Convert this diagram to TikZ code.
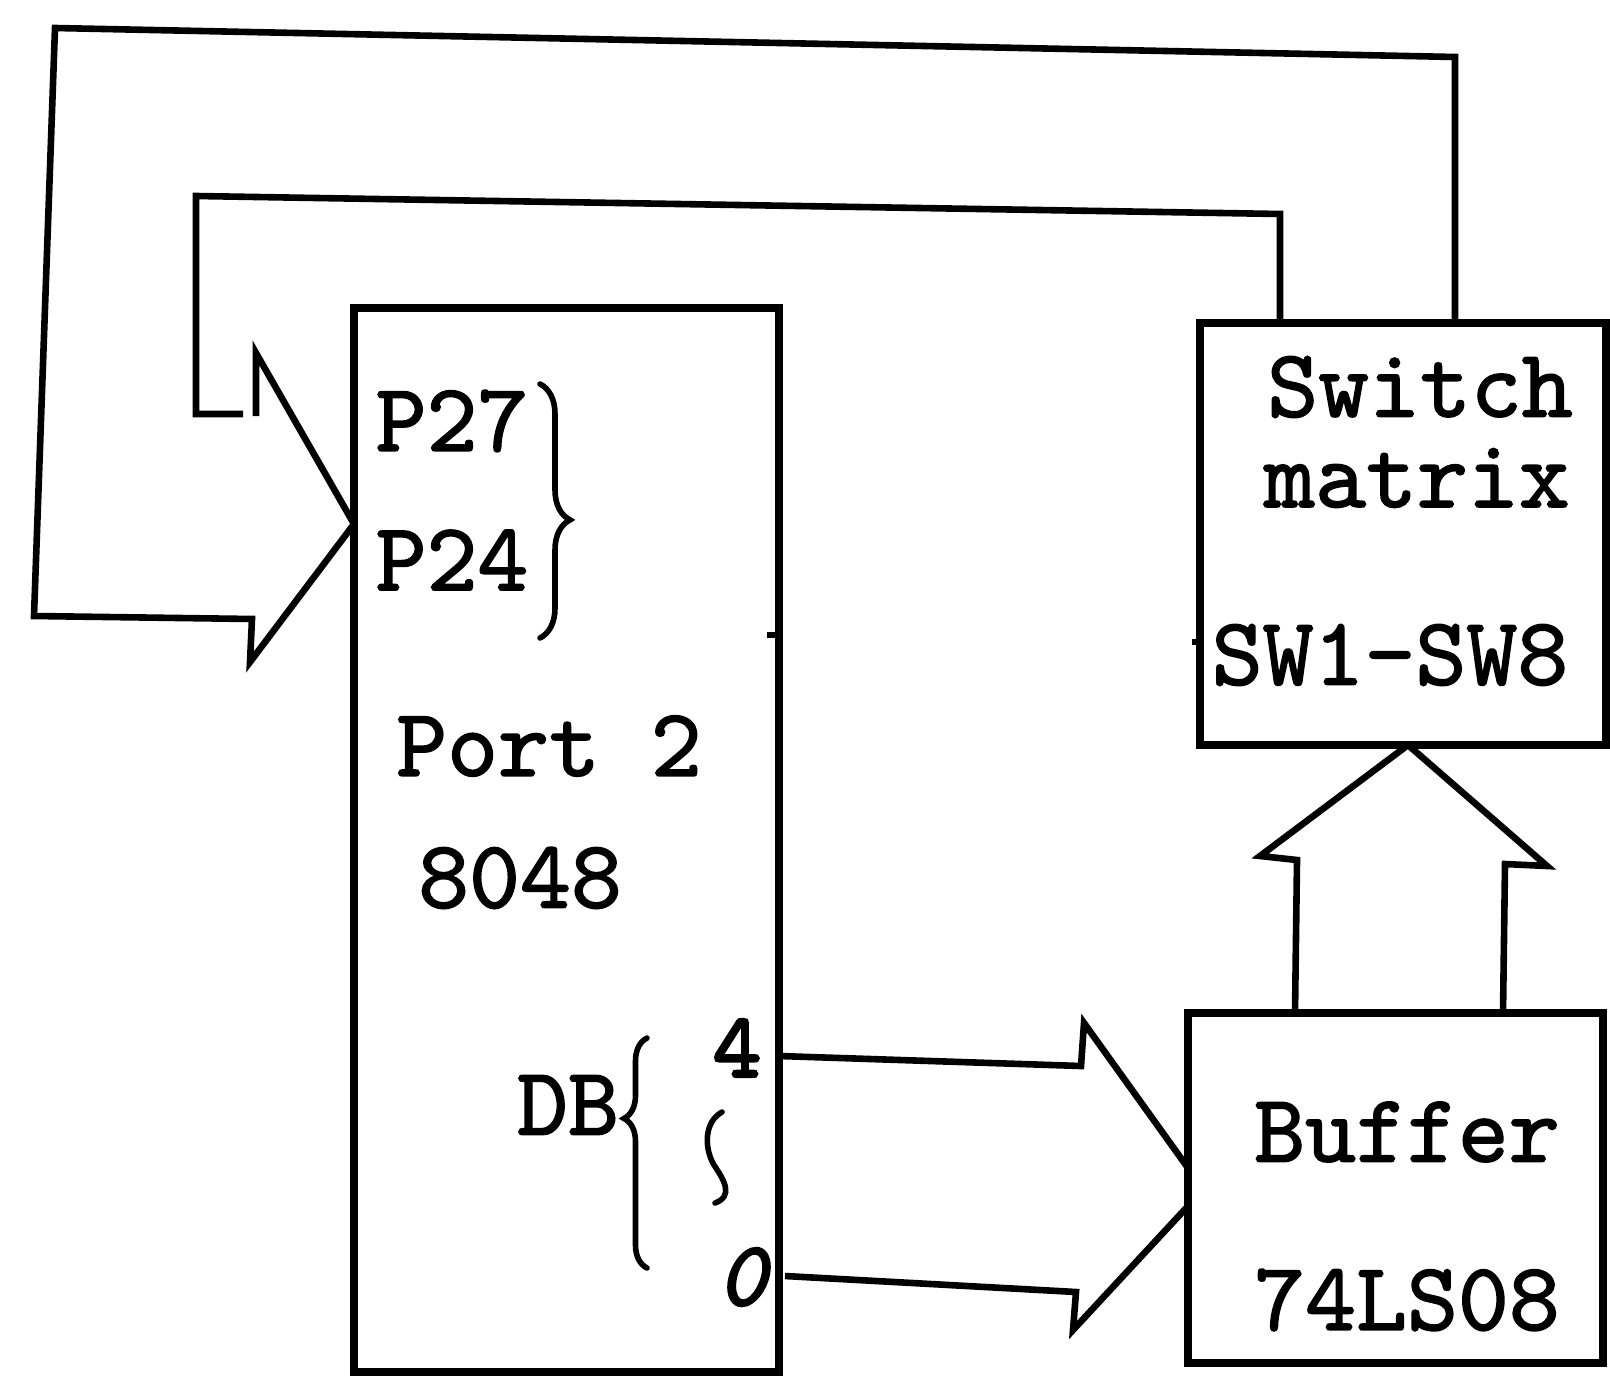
\documentclass[tikz,border=0pt]{standalone}
\usepackage{fontspec}
\newfontfamily\lmtt{lmmono10-regular.otf}[FakeBold=1.6]
\newfontfamily\lmttb{lmmono10-regular.otf}[FakeBold=3]
\newfontfamily\lmit{lmmono10-italic.otf}[FakeBold=2.5]
\usetikzlibrary{decorations.pathreplacing}
\newcommand\lmlbl{\fontsize{48.5pt}{56pt}\selectfont\lmtt}
\newcommand\handlbl{\fontsize{46pt}{54pt}\selectfont\lmit}
\newcommand\handup{\fontsize{46pt}{54pt}\selectfont\lmttb}
\begin{document}
\begin{tikzpicture}[x=0.5pt,y=-0.5pt,
  box/.style={draw, line width=3.8pt, inner sep=0pt, outer sep=0pt},
  wire/.style={line width=3.3pt, line join=miter},
  lm/.style={font=\lmlbl, inner sep=0pt},
  hand/.style={font=\handlbl, inner sep=0pt},
  handu/.style={font=\handup, inner sep=0pt},
  thin/.style={line width=2.8pt, line cap=round}
]
\useasboundingbox (0,0) rectangle (1610,1380);
\fill[white] (0,0) rectangle (1610,1380);

% boxes
\node[box, minimum width=212.5pt, minimum height=532pt] (cpu) at (566.5,840) {};
\node[box, minimum width=203pt, minimum height=211pt] (sw) at (1403,534) {};
\node[box, minimum width=207.5pt, minimum height=175pt] (buf) at (1395.5,1188) {};

% labels
\node[lm] (p27) at (452,421) {P27};
\node[lm] (p24) at (452,560) {P24};
\node[lm] (port) at (549,746) {Port 2};
\node[lm] (num) at (520,878) {8048};
\node[lm] (db) at (568,1105) {DB};
\node[handu] (b4) at (737,1048) {4};
\node[hand] (b0) at (742,1277) {0};
\node[lm] (swa) at (1420,387) {Switch};
\node[lm] (swb) at (1417,478) {matrix};
\node[lm] (swc) at (1390,655) {SW1-SW8};
\node[lm] (bfa) at (1407,1132) {Buffer};
\node[lm] (bfb) at (1407,1300) {74LS08};

% coordinates
\coordinate (oR) at (1455,57);
\coordinate (oL) at (55,28);
\coordinate (oB) at (34,616);
\coordinate (aS) at (252,619);
\coordinate (aB) at (250,662);
\coordinate (yA) at (0,524);
\coordinate (iR) at (1280,214);
\coordinate (iL) at (196,196);
\coordinate (iB) at (196,414);
\coordinate (iS) at (243,414);
\coordinate (uB0) at (256,416);
\coordinate (uB) at (256,353);

% big arrow into P24 from the switch matrix
\draw[wire] (sw.north -| oR) -- (oR) -- (oL) -- (oB) -- (aS) -- (aB) -- (cpu.west |- yA);
\draw[wire] (sw.north -| iR) -- (iR) -- (iL) -- (iB) -- (iS);
\draw[wire] (uB0) -- (uB) -- (cpu.west |- yA);

% DB arrow into buffer
\coordinate (d4) at (0,1056);
\coordinate (d4b) at (1081,1066);
\coordinate (d4c) at (1084,1023);
\coordinate (dT1) at (0,1168);
\draw[wire] (cpu.east |- d4) -- (d4b) -- (d4c) -- (buf.west |- dT1);
\coordinate (d0) at (785,1276);
\coordinate (d0b) at (1076,1292);
\coordinate (d0c) at (1073,1330);
\coordinate (dT2) at (0,1206);
\draw[wire] (d0) -- (d0b) -- (d0c) -- (buf.west |- dT2);

% up arrow buffer -> switch matrix
\coordinate (uL) at (1295,0);
\coordinate (uL2) at (1297,860);
\coordinate (uLb) at (1260,856);
\coordinate (uTip) at (1408,0);
\coordinate (uRb) at (1547,866);
\coordinate (uR2) at (1505,864);
\coordinate (uR) at (1503,0);
\draw[wire] (buf.north -| uL) -- (uL2) -- (uLb) -- (sw.south -| uTip) -- (uRb) -- (uR2) -- (buf.north -| uR);

% small ticks
\coordinate (t1) at (0,635);
\draw[wire] (cpu.east |- t1) -- ++(-12,0);
\coordinate (t2) at (0,642);
\draw[wire] (sw.west |- t2) -- ++(-8,0);

% braces
\draw[thin, decorate, decoration={brace, amplitude=15pt, aspect=0.535}] (540,384) -- (540,638);
\draw[thin, decorate, decoration={brace, amplitude=11.5pt, aspect=0.65}] (647,1268) -- (647,1038);
\draw[thin] (722,1112) .. controls (704,1122) and (704,1148) .. (714,1165) .. controls (724,1180) and (734,1196) .. (715,1203);
\end{tikzpicture}
\end{document}
